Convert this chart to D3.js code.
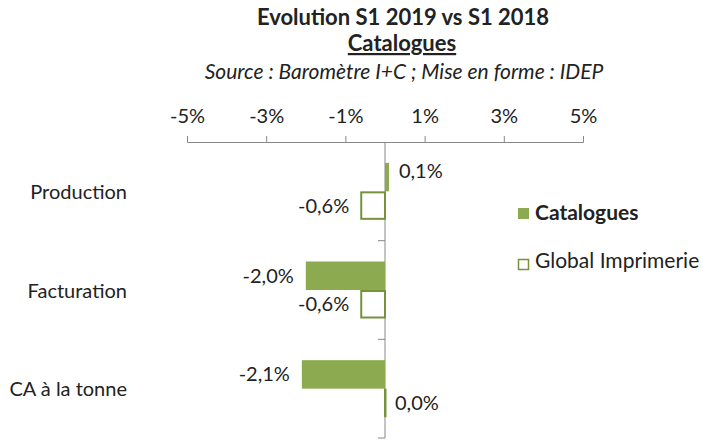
<!DOCTYPE html>
<html>
<head>
<meta charset="utf-8">
<script src="https://cdn.jsdelivr.net/npm/d3@7"></script>
<style>
  body { margin: 0; background: #fff; }
  svg text { font-family: Lato, "Open Sans", sans-serif; fill: #222; }
</style>
</head>
<body>
<div id="chart"></div>
<script>
// data
const categories = ["Production", "Facturation", "CA à la tonne"];
const seriesNames = ["Catalogues", "Global Imprimerie"];
const catalogues = [0.1, -2.0, -2.1];
const globalImprimerie = [-0.6, -0.6, 0.0];
const tickValues = [-5, -3, -1, 1, 3, 5];

const width = 708, height = 440;
const fillGreen = "#8cab50", strokeGreen = "#76933c";

const svg = d3.select("#chart").append("svg")
    .attr("width", width)
    .attr("height", height);

// titles
svg.append("text")
    .attr("x", 403).attr("y", 25)
    .attr("text-anchor", "middle")
    .style("font-size", "22px").style("font-weight", "bold")
    .text("Evolution S1 2019 vs S1 2018");
svg.append("text")
    .attr("x", 402).attr("y", 51)
    .attr("text-anchor", "middle")
    .style("font-size", "22px").style("font-weight", "bold")
    .style("text-decoration", "underline")
    .text("Catalogues");
svg.append("text")
    .attr("x", 404).attr("y", 79)
    .attr("text-anchor", "middle")
    .style("font-size", "21px").style("font-style", "italic")
    .text("Source : Baromètre I+C ; Mise en forme : IDEP");

// scales
let x = d3.scaleLinear().domain([-5, 5]).range([187, 583]);
let y = d3.scaleBand().domain(categories).range([142, 438]);
let ySub = d3.scaleBand().domain(seriesNames)
    .range([(y.bandwidth() - 57) / 2, (y.bandwidth() + 57) / 2]);

// top axis
let xAxis = svg.append("g")
    .attr("transform", "translate(0,142)")
    .call(d3.axisTop(x).tickValues(tickValues).tickSizeOuter(0).tickSize(6)
        .tickFormat(d => d + "%"));
xAxis.select(".domain").attr("stroke", "#888");
xAxis.selectAll(".tick line").attr("stroke", "#888");
xAxis.selectAll(".tick text")
    .style("font-size", "20px")
    .style("font-family", "Lato, 'Open Sans', sans-serif")
    .attr("fill", "#222")
    .attr("dy", "0")
    .attr("y", -19);

// vertical axis at zero
svg.append("line")
    .attr("x1", x(0)).attr("x2", x(0))
    .attr("y1", 142).attr("y2", 438)
    .attr("stroke", "#888");
svg.selectAll(".ytick")
    .data(categories)
    .enter()
    .append("line")
    .attr("class", "ytick")
    .attr("x1", x(0) - 7).attr("x2", x(0))
    .attr("y1", d => y(d) + y.bandwidth())
    .attr("y2", d => y(d) + y.bandwidth())
    .attr("stroke", "#888");

svg.selectAll(".catLabel")
    .data(categories)
    .enter()
    .append("text")
    .attr("class", "catLabel")
    .attr("x", 127)
    .attr("y", d => y(d) + y.bandwidth() / 2 + 7.5)
    .attr("text-anchor", "end")
    .style("font-size", "20px")
    .text(d => d);

// bars
let rows = [];
categories.forEach((c, i) => {
    rows.push({ cat: c, series: seriesNames[0], value: catalogues[i] });
    rows.push({ cat: c, series: seriesNames[1], value: globalImprimerie[i] });
});

let barGroup = svg.append("g");
barGroup.selectAll("rect")
    .data(rows)
    .enter()
    .append("rect")
    .attr("x", d => x(Math.min(0, d.value)))
    .attr("y", d => y(d.cat) + ySub(d.series) + (d.series === seriesNames[1] ? 1 : 0))
    .attr("width", d => Math.max(0.5, Math.abs(x(d.value) - x(0))))
    .attr("height", d => ySub.bandwidth() - (d.series === seriesNames[1] ? 2 : 0))
    .attr("fill", d => d.series === seriesNames[0] ? fillGreen : "#fff")
    .attr("stroke", d => d.series === seriesNames[0] ? "none" : strokeGreen)
    .attr("stroke-width", 2);

// value labels
let fmt = v => (v < 0 ? "-" : "") + Math.abs(v).toFixed(1).replace(".", ",") + "%";
barGroup.selectAll("text")
    .data(rows)
    .enter()
    .append("text")
    .attr("x", d => d.value < 0 ? x(d.value) - 12 : x(d.value) + 10)
    .attr("y", d => y(d.cat) + ySub(d.series) + ySub.bandwidth() / 2 + 7
        + (d.series === seriesNames[0] && d.value > 0 ? -6 : 0))
    .attr("text-anchor", d => d.value < 0 ? "end" : "start")
    .style("font-size", "20px")
    .text(d => fmt(d.value));

// legend
let legend = svg.append("g");
legend.append("rect")
    .attr("x", 518).attr("y", 208).attr("width", 11).attr("height", 11)
    .attr("fill", fillGreen);
legend.append("text")
    .attr("x", 535).attr("y", 220)
    .style("font-size", "21px").style("font-weight", "bold")
    .text(seriesNames[0]);
legend.append("rect")
    .attr("x", 518.5).attr("y", 259.5).attr("width", 10).attr("height", 10)
    .attr("fill", "#fff").attr("stroke", strokeGreen).attr("stroke-width", 1.5);
legend.append("text")
    .attr("x", 535).attr("y", 268)
    .style("font-size", "21px")
    .text(seriesNames[1]);
</script>
</body>
</html>
